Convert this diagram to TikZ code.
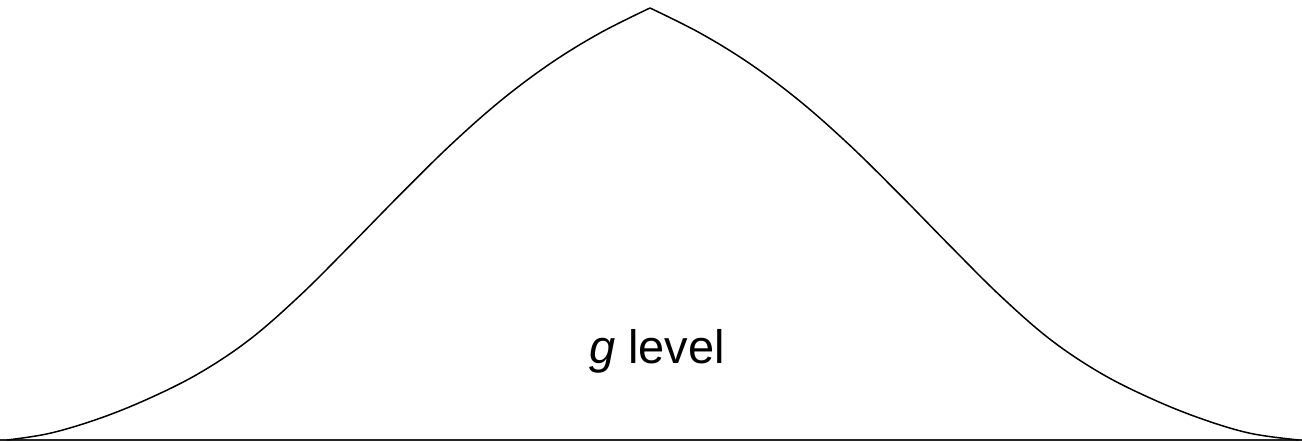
\documentclass[tikz,border=0pt]{standalone}
\usepackage{fontspec}
\setmainfont{Liberation Sans}
\begin{document}
\begin{tikzpicture}[x=1pt,y=-1pt,
  curve/.style={line width=1.5pt, line join=round},
  base/.style={line width=1.7pt, draw=black!85},
  lbl/.style={font=\fontsize{47}{54}\selectfont, anchor=base, inner sep=0pt}]
\useasboundingbox (0,0) rectangle (1302,442);
\coordinate (peak) at (650,8);
\coordinate (L) at (0,440);
\coordinate (R) at (1302,440);
\draw[base] (L) -- (R);
\draw[curve] plot[smooth, tension=0.6] coordinates {(7,440) (50,433.25) (100,418.25) (150,398) (200,372.75) (250,339.25) (300,295.5) (350,245.75) (400,194.75) (450,145.5) (500,101.25) (550,63.75) (600,33) (650,8)};
\draw[curve] plot[smooth, tension=0.6] coordinates {(650,8) (700,33) (750,63.75) (800,101.25) (850,145.5) (900,194.75) (950,245.75) (1000,295.5) (1050,339.25) (1100,372.75) (1150,398) (1200,418.25) (1250,433.25) (1299,440)};
\node[lbl] (txt) at (657,363) {\textit{g} level};
\end{tikzpicture}
\end{document}
